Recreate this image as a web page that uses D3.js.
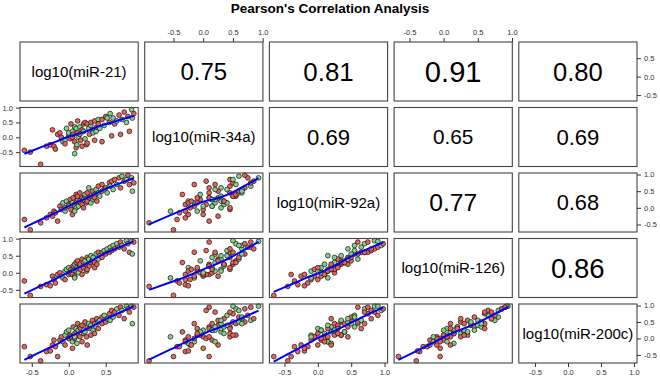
<!DOCTYPE html>
<html>
<head>
<meta charset="utf-8">
<script src="https://cdn.jsdelivr.net/npm/d3@7"></script>
<style>
  body { margin: 0; background: #fff; }
  svg text { font-family: "Liberation Sans", Arial, sans-serif; }
</style>
</head>
<body>
<div id="pairs"></div>
<script>
// variable labels (diagonal)
const varLabels = ['log10(miR-21)', 'log10(miR-34a)', 'log10(miR-92a)', 'log10(miR-126)', 'log10(miR-200c)'];

// log10 expression values, one entry per sample
const mir21 = [-0.60,-0.52,-0.38,-0.30,-0.25,-0.22,-0.20,-0.18,-0.15,-0.12,
  -0.10,-0.08,-0.05,-0.05,-0.03,0.00,0.00,0.02,0.03,0.05,
  0.05,0.06,0.08,0.08,0.10,0.10,0.11,0.12,0.12,0.13,
  0.15,0.15,0.16,0.18,0.18,0.20,0.20,0.22,0.22,0.24,
  0.25,0.25,0.27,0.28,0.30,0.30,0.32,0.33,0.35,0.35,
  0.37,0.38,0.40,0.40,0.42,0.45,0.45,0.48,0.50,0.52,
  0.55,0.56,0.58,0.60,0.62,0.65,0.68,0.70,0.72,0.75,
  0.78,0.80,0.82,0.85,0.88,0.86,0.08];
const mir34a = [-0.44,-0.50,-0.91,-0.30,-0.25,0.25,-0.30,-0.40,0.10,0.15,
  0.00,-0.15,-0.10,-0.22,0.30,0.05,0.15,-0.05,0.45,0.20,
  0.00,0.10,0.35,-0.15,-0.35,0.30,-0.25,0.15,0.55,0.00,
  0.35,0.10,-0.10,0.25,-0.30,0.20,0.45,0.50,-0.05,-0.25,
  0.45,-0.20,0.30,0.10,0.40,0.50,0.25,0.15,0.55,-0.10,
  0.20,0.35,0.60,0.45,0.30,0.60,-0.15,0.40,0.70,0.65,
  0.50,0.80,0.05,0.65,0.45,0.55,0.75,0.10,0.60,0.85,
  0.50,0.70,0.20,0.93,0.80,0.65,-0.55];
const mir92a = [-0.35,-0.66,-0.45,-0.30,-0.20,-0.25,-0.10,-0.15,-0.40,0.05,
  -0.05,0.15,-0.10,0.00,0.20,0.10,0.05,0.25,-0.05,0.15,
  -0.20,0.30,0.10,0.05,0.40,0.00,0.20,0.25,0.35,0.05,
  0.20,0.45,0.15,0.30,0.10,0.25,0.00,0.35,0.40,0.15,
  0.45,0.20,0.60,0.30,0.15,0.35,0.50,0.25,0.40,0.30,
  0.55,0.20,0.45,0.65,0.35,0.50,0.70,0.55,0.60,0.45,
  0.75,0.65,0.80,0.55,0.85,0.70,0.90,0.60,0.95,0.80,
  0.85,0.98,0.70,0.90,0.75,0.50,-0.10];
const mir126 = [-0.24,-0.66,-0.40,-0.35,-0.38,-0.10,-0.20,-0.30,-0.05,0.00,
  -0.10,-0.15,0.05,-0.20,0.10,-0.05,0.15,0.00,0.10,0.05,
  -0.05,0.20,0.25,-0.10,0.30,0.05,0.15,0.10,0.35,0.00,
  0.20,0.25,0.10,0.40,-0.05,0.30,0.15,0.25,0.35,0.05,
  0.45,0.10,0.40,0.20,0.50,0.30,0.35,0.45,0.30,0.15,
  0.55,0.25,0.40,0.60,0.50,0.45,0.60,0.65,0.55,0.70,
  0.60,0.75,0.65,0.80,0.70,0.85,0.75,0.90,0.80,0.70,
  0.94,0.85,0.60,0.92,0.90,0.55,-0.15];
const mir200c = [-0.25,-0.55,-0.68,-0.40,-0.38,-0.20,-0.05,-0.25,-0.55,-0.05,
  0.05,-0.10,0.10,-0.20,0.20,0.00,0.25,0.10,0.05,-0.10,
  -0.30,0.35,0.15,0.00,0.20,0.30,-0.15,0.45,0.10,0.25,
  0.35,0.05,0.30,0.40,-0.10,0.25,0.15,0.50,0.20,0.05,
  0.35,-0.20,0.45,0.30,0.40,0.10,0.55,0.25,0.45,0.15,
  0.35,0.60,0.50,0.30,0.55,0.65,0.45,0.70,0.50,0.60,
  0.75,0.55,0.85,0.65,0.80,0.90,0.70,0.95,0.85,0.60,
  0.98,0.90,0.80,0.98,0.95,0.45,0.05];

// sample group (1 / 2)
const groups = [1,1,1,1,1,1,1,1,1,1,
  1,2,2,1,2,1,2,1,1,2,
  1,1,2,1,1,2,2,1,1,2,
  2,1,1,1,1,2,1,1,2,1,
  1,1,2,1,2,1,1,2,1,1,
  2,1,2,1,2,1,1,2,1,2,
  1,2,1,2,1,2,1,1,2,1,
  2,1,1,2,1,2,2];

// Pearson r printed in the upper panels, row by row
const corrPairs = [[0,1],[0,2],[0,3],[0,4],[1,2],[1,3],[1,4],[2,3],[2,4],[3,4]];
const corrValues = [0.75, 0.81, 0.91, 0.80, 0.69, 0.65, 0.69, 0.77, 0.68, 0.86];

const tickValues = [-1.0, -0.5, 0.0, 0.5, 1.0];

// simple lowess (tricube local linear fit + robustness iterations)
function lowess(xs, ys, f = 2 / 3, iter = 3) {
  const n = xs.length;
  const idx = d3.range(n).sort((a, b) => xs[a] - xs[b]);
  const x = idx.map(i => xs[i]), y = idx.map(i => ys[i]);
  const r = Math.ceil(f * n);
  let rw = new Array(n).fill(1);
  const fit = new Array(n);
  for (let it = 0; it <= iter; it++) {
    for (let i = 0; i < n; i++) {
      const dists = x.map(v => Math.abs(v - x[i]));
      const h = Math.max(d3.sort(dists)[r - 1], 1e-9);
      let sw = 0, sx = 0, sy = 0, sxx = 0, sxy = 0;
      for (let j = 0; j < n; j++) {
        const u = dists[j] / h;
        if (u >= 1) continue;
        const w = Math.pow(1 - u * u * u, 3) * rw[j];
        sw += w; sx += w * x[j]; sy += w * y[j];
        sxx += w * x[j] * x[j]; sxy += w * x[j] * y[j];
      }
      const mx = sx / sw, my = sy / sw;
      const vx = sxx / sw - mx * mx;
      const b = vx > 1e-12 ? (sxy / sw - mx * my) / vx : 0;
      fit[i] = my + b * (x[i] - mx);
    }
    if (it === iter) break;
    const res = y.map((v, i) => v - fit[i]);
    const s = d3.median(res.map(Math.abs)) || 1e-9;
    rw = res.map(e => {
      const u = e / (6 * s);
      return Math.abs(u) < 1 ? Math.pow(1 - u * u, 2) : 0;
    });
  }
  return x.map((v, i) => [v, fit[i]]);
}

class PairsPlot {

  constructor(_config, data) {
    this.config = {
      parentElement: _config.parentElement,
      containerWidth: 660,
      containerHeight: 382,
      margin: { top: 42, right: 23, bottom: 19, left: 20 },
      gap: 6.5,
      pointRadius: 2.4
    }
    this.data = data;
    this.initVis();
  }

  initVis() {
    let vis = this;
    const cfg = vis.config;
    const k = vis.data.vars.length;

    vis.width = cfg.containerWidth - cfg.margin.left - cfg.margin.right;
    vis.height = cfg.containerHeight - cfg.margin.top - cfg.margin.bottom;
    vis.pw = (vis.width - (k - 1) * cfg.gap) / k;
    vis.ph = (vis.height - (k - 1) * cfg.gap) / k;

    vis.svg = d3.select(cfg.parentElement)
      .append('svg')
        .attr('width', cfg.containerWidth)
        .attr('height', cfg.containerHeight);

    vis.svg.append('text')
      .attr('x', cfg.containerWidth / 2)
      .attr('y', 13)
      .attr('text-anchor', 'middle')
      .style('font-size', '13.5px')
      .style('font-weight', 'bold')
      .text('Pearson\'s Correlation Analysis');

    // one x scale per column, one y scale per row (R pairs: 4% padding)
    vis.xScales = vis.data.vars.map((v, j) => {
      const ext = d3.extent(v);
      const pad = (ext[1] - ext[0]) * 0.04;
      const x0 = cfg.margin.left + j * (vis.pw + cfg.gap);
      return d3.scaleLinear().domain([ext[0] - pad, ext[1] + pad]).range([x0, x0 + vis.pw]);
    });
    vis.yScales = vis.data.vars.map((v, i) => {
      const ext = d3.extent(v);
      const pad = (ext[1] - ext[0]) * 0.04;
      const y0 = cfg.margin.top + i * (vis.ph + cfg.gap);
      return d3.scaleLinear().domain([ext[0] - pad, ext[1] + pad]).range([y0 + vis.ph, y0]);
    });

    vis.colour = d3.scaleOrdinal().domain([1, 2]).range(['#e5655a', '#84d286']);

    vis.renderVis();
  }

  renderVis() {
    let vis = this;
    const k = vis.data.vars.length;
    const fmt = v => (Math.abs(v) < 1e-9 ? 0 : v).toFixed(1);

    for (let i = 0; i < k; i++) {
      for (let j = 0; j < k; j++) {
        const xs = vis.xScales[j], ys = vis.yScales[i];
        const g = vis.svg.append('g').attr('class', `panel p${i}${j}`);
        const cx = (xs.range()[0] + xs.range()[1]) / 2;
        const cy = (ys.range()[0] + ys.range()[1]) / 2;

        if (i === j) {
          g.append('text')
            .attr('x', cx)
            .attr('y', cy)
            .attr('dy', '0.35em')
            .attr('text-anchor', 'middle')
            .style('font-size', '15px')
            .text(vis.data.labels[i]);
        } else if (j > i) {
          const c = vis.data.corrPairs.findIndex(p => p[0] === i && p[1] === j);
          const r = vis.data.corr[c];
          g.append('text')
            .attr('x', cx)
            .attr('y', cy)
            .attr('dy', '0.36em')
            .attr('text-anchor', 'middle')
            .style('font-size', (32 * r) + 'px')
            .text(r.toFixed(2));
        } else {
          const xv = vis.data.vars[j], yv = vis.data.vars[i];
          g.selectAll('circle')
            .data(xv.map((d, n) => ({ x: d, y: yv[n], grp: vis.data.groups[n] })))
            .join('circle')
              .attr('cx', d => xs(d.x))
              .attr('cy', d => ys(d.y))
              .attr('r', vis.config.pointRadius)
              .attr('fill', d => vis.colour(d.grp))
              .attr('stroke', '#111')
              .attr('stroke-width', 0.7);

          const smooth = lowess(xv, yv);
          g.append('path')
            .attr('d', d3.line().x(d => xs(d[0])).y(d => ys(d[1]))(smooth))
            .attr('fill', 'none')
            .attr('stroke', '#0000ff')
            .attr('stroke-width', 2);
        }

        g.append('rect')
          .attr('x', xs.range()[0])
          .attr('y', ys.range()[1])
          .attr('width', vis.pw)
          .attr('height', vis.ph)
          .attr('fill', 'none')
          .attr('stroke', '#444')
          .attr('stroke-width', 1.1);

        // alternating axes like R's pairs()
        const inDomain = s => tickValues.filter(t => t >= s.domain()[0] && t <= s.domain()[1]);
        let axis = null, tr = null;
        if (i === 0 && j % 2 === 1) {
          axis = d3.axisTop(xs).tickValues(inDomain(xs)); tr = `translate(0,${ys.range()[1]})`;
        } else if (i === k - 1 && j % 2 === 0) {
          axis = d3.axisBottom(xs).tickValues(inDomain(xs)); tr = `translate(0,${ys.range()[0]})`;
        }
        if (axis) vis.drawAxis(axis, tr, fmt);
        axis = null;
        if (j === 0 && i % 2 === 1) {
          axis = d3.axisLeft(ys).tickValues(inDomain(ys)); tr = `translate(${xs.range()[0]},0)`;
        } else if (j === k - 1 && i % 2 === 0) {
          axis = d3.axisRight(ys).tickValues(inDomain(ys)); tr = `translate(${xs.range()[1]},0)`;
        }
        if (axis) vis.drawAxis(axis, tr, fmt);
      }
    }
  }

  drawAxis(axis, tr, fmt) {
    let vis = this;
    vis.svg.append('g')
      .attr('class', 'axis')
      .attr('transform', tr)
      .call(axis.tickSize(4).tickPadding(3).tickFormat(fmt))
      .call(g => g.select('.domain').remove())
      .call(g => g.selectAll('line').attr('stroke', '#333'))
      .call(g => g.selectAll('text')
        .attr('fill', '#333')
        .style('font-size', '7.5px')
        .style('font-family', '"Liberation Sans", Arial, sans-serif'));
  }
}

new PairsPlot({ parentElement: '#pairs' }, {
  vars: [mir21, mir34a, mir92a, mir126, mir200c],
  labels: varLabels,
  groups: groups,
  corrPairs: corrPairs,
  corr: corrValues
});
</script>
</body>
</html>
